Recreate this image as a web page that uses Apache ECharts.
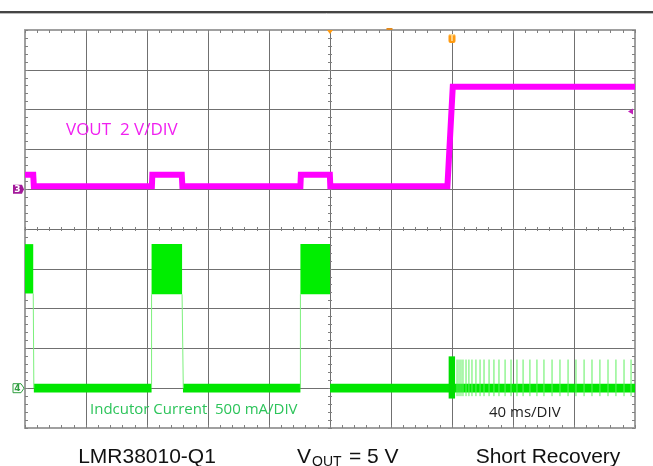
<!DOCTYPE html>
<html><head><meta charset="utf-8">
<script src="https://cdn.jsdelivr.net/npm/echarts/dist/echarts.min.js"></script>
<style>html,body{margin:0;padding:0;background:#fff}#c{width:653px;height:466px}</style>
</head><body><div id="c"></div>
<script>
// ---- data (time in ms, 40 ms/div; Vout in V, 2 V/div; inductor current in A, 0.5 A/div) ----
const timeTicks = [0, 40, 80, 120, 160, 200, 240, 280, 320, 360, 400];
// Vout trace points [t(ms), V]
const voutTrace = [[0,0.73],[5.4,0.73],[5.8,0.15],[83.2,0.15],[83.5,0.73],[102.8,0.73],[103.2,0.15],[180.6,0.15],[180.9,0.73],[199.9,0.73],[200.2,0.15],[277,0.15],[280.5,5.15],[400,5.15]];
// inductor current switching envelopes [tStart, tEnd, iMin, iMax]
const iOnBands = [[0,5.4,1.19,1.81],[83.0,103.0,1.18,1.81],[180.6,200.0,1.18,1.81]];
const iOffBands = [[5.8,83.0,-0.055,0.055],[103.6,180.6,-0.055,0.055],[200.0,400,-0.055,0.055]];
const iBurst = [[277.8,282.0,-0.13,0.40]];
// thin edges [t0, i0, t1, i1]
const iEdges = [[5.4,1.19,5.8,0],[83.0,0,83.0,1.18],[103.0,1.18,103.8,0],[180.6,0,180.6,1.18]];
// restart spikes after recovery (ms)
const spikeTimes = [283.3,284.6,285.9,287.2,289.2,291.1,293.1,295.7,298.4,301.0,304.3,307.5,310.8,314.8,318.7,322.6,326.6,331.1,335.7,340.3,345.6,350.8,356.1,361.3,366.6,371.8,377.0,382.3,387.5,392.8,397.4];
const spikeRange = [-0.1, 0.36];
const trigTime = 280, delayTime = 200, trigLevel = 3.9;

const chart = echarts.init(document.getElementById('c'), null, {renderer:'canvas'});
const BORDER = {show:true, onZero:false, lineStyle:{color:'#a0a0a0', width:2}};
const SPLIT = {show:true, lineStyle:{color:'#707070', width:1}};
const TICK = (inside,len)=>({show:true, inside:inside, length:len, lineStyle:{color:'#808080', width:1}});
const MTICK = (len)=>({show:true, splitNumber:5, length:len, lineStyle:{color:'#808080', width:1}});
const NOLAB = {show:false};

function bandRender(color){
  return function(params, api){
    const p0 = api.coord([api.value(0), api.value(3)]);
    const p1 = api.coord([api.value(1), api.value(2)]);
    return {type:'rect', shape:{x:p0[0], y:p0[1], width:Math.max(1,p1[0]-p0[0]), height:p1[1]-p0[1]}, style:{fill:color}};
  };
}

const option = {
  animation:false,
  backgroundColor:'#ffffff',
  grid:{left:25, top:30, width:610, height:398, show:false},
  xAxis:[
    {type:'value', min:0, max:400, interval:40, position:'bottom', axisLine:BORDER, axisTick:TICK(true,3), minorTick:MTICK(3), axisLabel:NOLAB, splitLine:SPLIT},
    {type:'value', min:0, max:400, interval:40, position:'top', axisLine:BORDER, axisTick:TICK(true,3), minorTick:MTICK(3), axisLabel:NOLAB, splitLine:{show:false}},
    {type:'value', min:0, max:400, interval:40, position:'bottom', axisLine:{show:true, onZero:true, onZeroAxisIndex:0, lineStyle:{color:'#707070'}}, axisTick:TICK(true,2), minorTick:MTICK(2), axisLabel:NOLAB, splitLine:{show:false}},
    {type:'value', min:0, max:400, interval:40, position:'bottom', axisLine:{show:false, onZero:true, onZeroAxisIndex:0}, axisTick:TICK(false,2), minorTick:MTICK(2), axisLabel:NOLAB, splitLine:{show:false}},
    {type:'value', min:-5, max:5, interval:1, show:false}
  ],
  yAxis:[
    {type:'value', min:-5, max:5, interval:1, position:'left', axisLine:BORDER, axisTick:TICK(true,3), minorTick:MTICK(3), axisLabel:NOLAB, splitLine:SPLIT},
    {type:'value', min:-5, max:5, interval:1, position:'right', axisLine:BORDER, axisTick:TICK(true,3), minorTick:MTICK(3), axisLabel:NOLAB, splitLine:{show:false}},
    {type:'value', min:-5, max:5, interval:1, position:'left', axisLine:{show:true, onZero:true, onZeroAxisIndex:4, lineStyle:{color:'#707070'}}, axisTick:TICK(true,2), minorTick:MTICK(2), axisLabel:NOLAB, splitLine:{show:false}},
    {type:'value', min:-5, max:5, interval:1, position:'left', axisLine:{show:false, onZero:true, onZeroAxisIndex:4}, axisTick:TICK(false,2), minorTick:MTICK(2), axisLabel:NOLAB, splitLine:{show:false}},
    {type:'value', min:-12, max:8, interval:2, show:false},
    {type:'value', min:-0.5, max:4.5, interval:0.5, show:false}
  ],
  series:[
    {type:'custom', name:'IL on', xAxisIndex:0, yAxisIndex:5, clip:true, encode:{x:[0,1], y:[2,3]}, renderItem:bandRender('#00ee00'), data:iOnBands, z:3},
    {type:'custom', name:'IL off', xAxisIndex:0, yAxisIndex:5, clip:true, encode:{x:[0,1], y:[2,3]}, renderItem:bandRender('#00e600'), data:iOffBands, z:3},
    {type:'custom', name:'IL edges', xAxisIndex:0, yAxisIndex:5, clip:true, encode:{x:[0,2], y:[1,3]},
      renderItem:function(params, api){
        const a = api.coord([api.value(0), api.value(1)]);
        const b = api.coord([api.value(2), api.value(3)]);
        return {type:'line', shape:{x1:a[0], y1:a[1], x2:b[0], y2:b[1]}, style:{stroke:'#7cf07c', lineWidth:1}};
      }, data:iEdges, z:3},
    {type:'custom', name:'IL spikes', xAxisIndex:0, yAxisIndex:5, clip:true, encode:{x:0},
      renderItem:function(params, api){
        const a = api.coord([api.value(0), spikeRange[1]]);
        const b = api.coord([api.value(0), spikeRange[0]]);
        return {type:'line', shape:{x1:a[0], y1:a[1], x2:b[0], y2:b[1]}, style:{stroke:'#5ef05e', lineWidth:1}};
      }, data:spikeTimes.map(t=>[t]), z:3},
    {type:'custom', name:'IL burst', xAxisIndex:0, yAxisIndex:5, clip:true, encode:{x:[0,1], y:[2,3]}, renderItem:bandRender('#00dd00'), data:iBurst, z:4},
    {type:'line', name:'VOUT', xAxisIndex:0, yAxisIndex:4, data:voutTrace, showSymbol:false, symbol:'none', lineStyle:{color:'#ff00ff', width:6, join:'miter'}, z:5}
  ]
};
chart.setOption(option);

const px = t => chart.convertToPixel({xAxisIndex:0}, t);
const pv = v => chart.convertToPixel({yAxisIndex:4}, v);
const pi = v => chart.convertToPixel({yAxisIndex:5}, v);
const xL = px(0), xR = px(400), yT = chart.convertToPixel({yAxisIndex:0}, 5);
const y3 = pv(0), y4 = pi(0);
const LBL = '15px "Open Sans", "DejaVu Sans", sans-serif';
const BIG = '21px "Liberation Sans", Arial, sans-serif';

chart.setOption({graphic:[
  {type:'line', shape:{x1:0, y1:12, x2:653, y2:12}, style:{stroke:'#444', lineWidth:2}, z:10},
  {type:'line', shape:{x1:0, y1:13.5, x2:653, y2:13.5}, style:{stroke:'#bbb', lineWidth:1}, z:10},
  // channel 3 ground marker
  {type:'polygon', shape:{points:[[xL-12,y3-4.5],[xL-3,y3-4.5],[xL-1,y3],[xL-3,y3+4.5],[xL-12,y3+4.5]]}, style:{fill:'#a3199a'}, z:10},
  {type:'text', style:{x:xL-7.5, y:y3+0.5, text:'3', fill:'#fff', font:'bold 9px "DejaVu Sans", sans-serif', align:'center', verticalAlign:'middle'}, z:11},
  // channel 4 ground marker
  {type:'polygon', shape:{points:[[xL-12,y4-4.5],[xL-4,y4-4.5],[xL-1,y4],[xL-4,y4+4.5],[xL-12,y4+4.5]]}, style:{fill:'#fff', stroke:'#2f9e3f', lineWidth:1}, z:10},
  {type:'text', style:{x:xL-7.5, y:y4+0.5, text:'4', fill:'#2f9e3f', font:'bold 9px "DejaVu Sans", sans-serif', align:'center', verticalAlign:'middle'}, z:11},
  // trigger markers
  {type:'rect', shape:{x:px(trigTime)-3.5, y:yT+4, width:7, height:9, r:2}, style:{fill:'#ff9a10'}, z:10},
  {type:'text', style:{x:px(trigTime), y:yT+8.5, text:'T', fill:'#ffe0a0', font:'bold 8px "DejaVu Sans", sans-serif', align:'center', verticalAlign:'middle'}, z:11},
  {type:'polygon', shape:{points:[[px(delayTime)-3,yT],[px(delayTime)+3,yT],[px(delayTime),yT+4]]}, style:{fill:'#ff9a10'}, z:10},
  {type:'line', shape:{x1:px(239)-3, y1:yT-1, x2:px(239)+3, y2:yT-1}, style:{stroke:'#e08a20', lineWidth:2}, z:10},
  {type:'polygon', shape:{points:[[xR-7,pv(trigLevel)],[xR-2,pv(trigLevel)-3],[xR-2,pv(trigLevel)+3]]}, style:{fill:'#c01fb8'}, z:10},
  // scope labels
  {type:'text', style:{x:66, y:130, text:'VOUT  2 V/DIV', fill:'#f020f0', font:'17px "Open Sans", "DejaVu Sans", sans-serif', verticalAlign:'middle'}, z:10},
  {type:'text', style:{x:90, y:410, text:'Indcutor Current  500 mA/DIV', fill:'#2cc45a', font:LBL, verticalAlign:'middle'}, z:10},
  {type:'text', style:{x:489, y:413, text:'40 ms/DIV', fill:'#222', font:LBL, verticalAlign:'middle'}, z:10},
  // caption
  {type:'text', style:{x:147, y:457, text:'LMR38010-Q1', fill:'#111', font:BIG, align:'center', verticalAlign:'middle'}, z:10},
  {type:'text', style:{x:297, y:457, text:'V', fill:'#111', font:BIG, verticalAlign:'middle'}, z:10},
  {type:'text', style:{x:312, y:462, text:'OUT', fill:'#111', font:'14px "Liberation Sans", Arial, sans-serif', verticalAlign:'middle'}, z:10},
  {type:'text', style:{x:349, y:457, text:'= 5 V', fill:'#111', font:BIG, verticalAlign:'middle'}, z:10},
  {type:'text', style:{x:548, y:457, text:'Short Recovery', fill:'#111', font:BIG, align:'center', verticalAlign:'middle'}, z:10}
]});
</script></body></html>
